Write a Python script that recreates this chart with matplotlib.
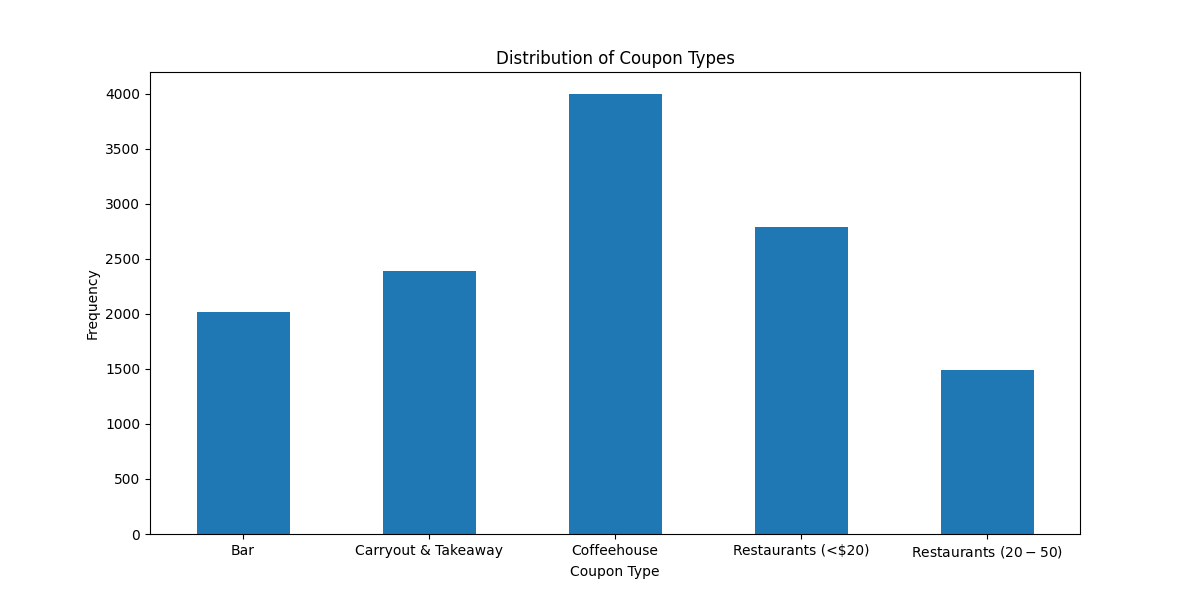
import matplotlib
matplotlib.use('Agg')
import matplotlib.pyplot as plt

coupon_types = ['Bar', 'Carryout & Takeaway', 'Coffeehouse',
                'Restaurants (<$20)', 'Restaurants ($20 - $50)']
counts = [2017, 2393, 3996, 2786, 1492]

fig, ax = plt.subplots(figsize=(12, 6), dpi=100)
ax.bar(range(len(coupon_types)), counts, width=0.5, color='#1f77b4')
ax.set_xticks(range(len(coupon_types)))
ax.set_xticklabels(coupon_types, rotation=0)
ax.set_xlim(-0.5, len(coupon_types) - 0.5)
ax.set_title('Distribution of Coupon Types')
ax.set_xlabel('Coupon Type')
ax.set_ylabel('Frequency')
fig.savefig('out.png', dpi=100)
